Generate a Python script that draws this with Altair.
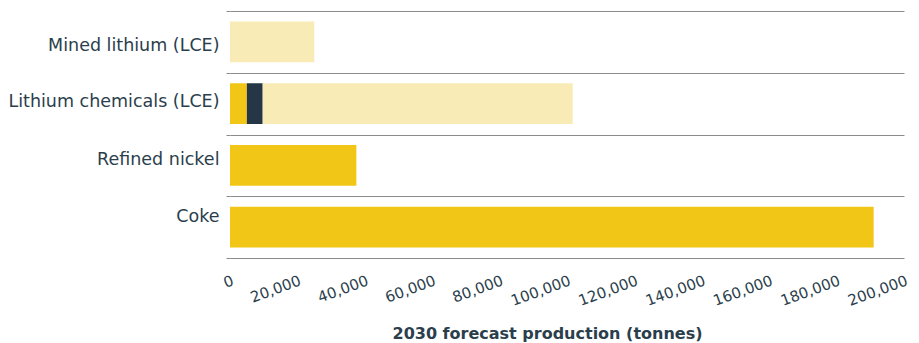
import altair as alt
import pandas as pd

categories = ["Mined lithium (LCE)", "Lithium chemicals (LCE)", "Refined nickel", "Coke"]
series_names = ["Segment 1", "Segment 2", "Segment 3"]
segment_1 = [0, 5000, 37500, 191000]
segment_2 = [0, 4700, 0, 0]
segment_3 = [25000, 92000, 0, 0]
colors = ["#F2C617", "#253746", "#F8EBB6"]
tick_values = [0, 20000, 40000, 60000, 80000, 100000, 120000, 140000, 160000, 180000, 200000]

rows = []
for i, cat in enumerate(categories):
    for k, vals in enumerate([segment_1, segment_2, segment_3]):
        if vals[i] > 0:
            rows.append({"category": cat, "series": series_names[k], "order": k, "value": vals[i]})
df = pd.DataFrame(rows)

FONT = "DejaVu Sans"
TEXT = "#2b3e4c"
GRID = "#8a8a8a"

label_offset = {
    "condition": [
        {"test": "datum.value === 'Mined lithium (LCE)'", "value": 4},
        {"test": "datum.value === 'Lithium chemicals (LCE)'", "value": -2},
        {"test": "datum.value === 'Refined nickel'", "value": -6},
    ],
    "value": -11,
}

chart = alt.Chart(df).mark_bar(height={"band": 0.66}).encode(
    y=alt.Y("category:N", sort=categories,
            scale=alt.Scale(paddingInner=0, paddingOuter=0),
            axis=alt.Axis(title=None, domain=False, grid=True, gridColor=GRID, gridWidth=1,
                          ticks=True, tickBand="extent", tickSize=4, tickColor=GRID,
                          labelFont=FONT, labelFontSize=17.5, labelColor=TEXT, labelPadding=7,
                          labelLimit=0, labelOffset=label_offset)),
    x=alt.X("value:Q", scale=alt.Scale(domain=[0, 200000], nice=False),
            axis=alt.Axis(title="2030 forecast production (tonnes)", grid=False, domain=False,
                          ticks=False, tickSize=0, values=tick_values,
                          labelExpr="format(datum.value, ',')",
                          labelAngle=340, labelAlign="right", labelBaseline="top",
                          labelPadding=15, labelFont=FONT, labelFontSize=15, labelColor=TEXT,
                          labelOverlap=False, labelFlush=False,
                          titleFont=FONT, titleFontSize=16, titleFontWeight="bold", titleColor=TEXT,
                          titleX=317, titleY=80, titleBaseline="alphabetic")),
    color=alt.Color("series:N", scale=alt.Scale(domain=series_names, range=colors), legend=None),
    order=alt.Order("order:Q"),
).properties(
    width=674, height=247,
    autosize=alt.AutoSizeParams(type="none"),
    padding={"left": 222, "top": 3, "right": 7, "bottom": 85},
).configure_view(stroke=None)

chart.save("out.html", embed_options={"renderer": "svg", "actions": False})
